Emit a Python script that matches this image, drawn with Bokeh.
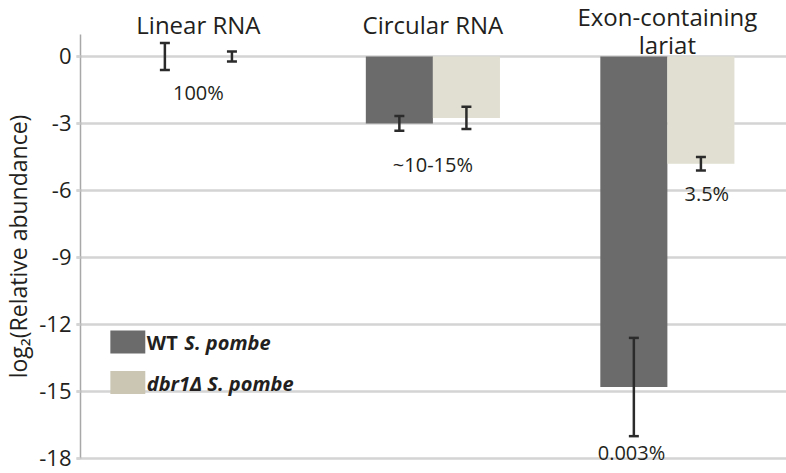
from bokeh.plotting import figure
from bokeh.models import ColumnDataSource, Whisker, TeeHead, FixedTicker, Range1d
from bokeh.core.properties import value
from bokeh.embed import file_html
from bokeh.resources import INLINE

# ---- data ----
categories = ["Linear RNA", "Circular RNA", "Exon-containing\nlariat"]
wt_values = [0.0, -3.0, -14.8]
wt_errors = [0.6, 0.33, 2.2]
dbr1_values = [0.0, -2.75, -4.8]
dbr1_errors = [0.22, 0.5, 0.3]
y_ticks = [0, -3, -6, -9, -12, -15, -18]
pct_labels = ["100%", "~10-15%", "3.5%", "0.003%"]

# ---- styling / layout constants ----
FONT = "Open Sans"
TXT = "#231f20"
WT_COLOR = "#6b6b6b"
DBR_COLOR = "#e1dfd1"
DBR_LEG = "#cbc6b4"
GRID = "#d4d4d4"
OFF = 0.143
BW = 0.286
AXIS_X = 0.497

groups = [i + 1 for i in range(len(categories))]
wt_x = [g - OFF for g in groups]
dbr_x = [g + OFF for g in groups]

p = figure(width=786, height=473, output_backend="svg", toolbar_location=None,
           x_range=Range1d(0.156, 3.508), y_range=Range1d(-18.672, 2.507),
           x_axis_location=None,
           min_border_left=0, min_border_right=0, min_border_top=0, min_border_bottom=0)
p.outline_line_color = None
p.background_fill_color = "white"
p.border_fill_color = "white"
p.xgrid.visible = False
p.ygrid.ticker = FixedTicker(ticks=y_ticks)
p.ygrid.grid_line_color = GRID
p.ygrid.grid_line_width = 2.5
p.ygrid.cross_bounds = (AXIS_X - 0.017, 3.508)

ax = p.yaxis[0]
ax.fixed_location = AXIS_X
ax.ticker = FixedTicker(ticks=y_ticks)
ax.major_label_overrides = {t: str(t) for t in y_ticks}
ax.bounds = (-18, 1)
ax.axis_line_color = "#a8a8a8"
ax.axis_line_width = 1.5
ax.major_tick_out = 4
ax.major_tick_in = 0
ax.major_tick_line_color = GRID
ax.major_tick_line_width = 2.5
ax.minor_tick_line_color = None
ax.major_label_text_font = FONT
ax.major_label_text_font_size = "22px"
ax.major_label_text_color = TXT
ax.major_label_standoff = 5
ax.axis_label = "log\u2082(Relative abundance)"
ax.axis_label_text_font = FONT
ax.axis_label_text_font_size = "23px"
ax.axis_label_text_font_style = "normal"
ax.axis_label_text_color = TXT
ax.axis_label_standoff = 2

# bars (drawn from 0 down to the value)
src_wt = ColumnDataSource(dict(x=wt_x, v=wt_values, zero=[0] * 3,
                               lo=[v - e for v, e in zip(wt_values, wt_errors)],
                               hi=[v + e for v, e in zip(wt_values, wt_errors)]))
src_db = ColumnDataSource(dict(x=dbr_x, v=dbr1_values, zero=[0] * 3,
                               lo=[v - e for v, e in zip(dbr1_values, dbr1_errors)],
                               hi=[v + e for v, e in zip(dbr1_values, dbr1_errors)]))
p.vbar(x="x", top="zero", bottom="v", width=BW, source=src_wt,
       fill_color=WT_COLOR, line_color=None)
p.vbar(x="x", top="zero", bottom="v", width=BW, source=src_db,
       fill_color=DBR_COLOR, line_color=None)

for src in (src_wt, src_db):
    w = Whisker(source=src, base="x", upper="hi", lower="lo", dimension="height",
                line_color="#2b2b2b", line_width=2.5, level="overlay",
                upper_head=TeeHead(size=10, line_color="#2b2b2b", line_width=2.5),
                lower_head=TeeHead(size=10, line_color="#2b2b2b", line_width=2.5))
    p.add_layout(w)

# category titles above the groups
title_x = [groups[0], groups[1], groups[2], groups[2]]
title_y = [1.43, 1.43, 1.79, 0.54]
title_t = [categories[0], categories[1]] + categories[2].split("\n")
p.text(x=title_x, y=title_y, text=title_t, text_align="center", text_baseline="middle",
       text_font=value(FONT), text_font_size="24px", text_color=TXT)

# percentage annotations
pct_x = [groups[0], groups[1], dbr_x[2] + 0.025, wt_x[2] - 0.01]
pct_y = [-1.61, -4.84, -6.13, -17.73]
p.text(x=pct_x, y=pct_y, text=pct_labels, text_align="center", text_baseline="middle",
       text_font=value(FONT), text_font_size="20px", text_color=TXT)

# legend (manual, to allow mixed bold / italic)
p.rect(x=[0.699, 0.699], y=[-12.78, -14.6], width=0.149, height=1.03,
       fill_color=[WT_COLOR, DBR_LEG], line_color=None)
p.text(x=[0.78], y=[-12.81], text=["WT"], text_baseline="middle",
       text_font=value(FONT), text_font_size="20px", text_font_style="bold", text_color=TXT)
p.text(x=[0.94], y=[-12.81], text=["S. pombe"], text_baseline="middle",
       text_font=value(FONT), text_font_size="20px", text_font_style="bold italic", text_color=TXT)
p.text(x=[0.78], y=[-14.64], text=["dbr1\u0394 S. pombe"], text_baseline="middle",
       text_font=value(FONT), text_font_size="20px", text_font_style="bold italic", text_color=TXT)

open("out.html", "w").write(file_html(p, INLINE))
